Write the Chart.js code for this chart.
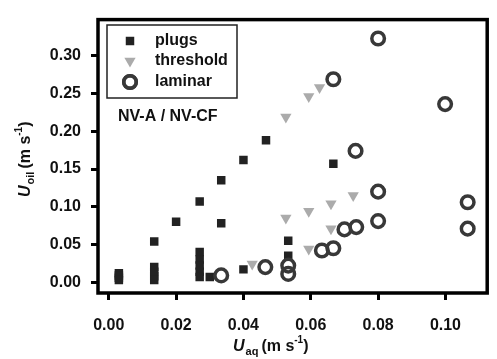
<!DOCTYPE html>
<html>
<head>
<meta charset="utf-8">
<script src="https://cdn.jsdelivr.net/npm/chart.js@4.4.1/dist/chart.umd.min.js"></script>
<style>
  html, body { margin: 0; padding: 0; background: #fff; }
  #wrap { width: 497px; height: 359px; position: relative; }
</style>
</head>
<body>
<div id="wrap"><canvas id="myChart"></canvas></div>
<script>
"use strict";

// data
const plugsX = [0.003, 0.003, 0.003, 0.003, 0.0135, 0.0135, 0.0135, 0.0135, 0.0135, 0.020, 0.027, 0.027, 0.027, 0.027, 0.027, 0.027, 0.030, 0.0334, 0.0334, 0.040, 0.040, 0.0467, 0.0533, 0.0533, 0.0667];
const plugsY = [0.012, 0.009, 0.006, 0.003, 0.054, 0.020, 0.014, 0.008, 0.003, 0.080, 0.107, 0.040, 0.030, 0.022, 0.014, 0.007, 0.007, 0.135, 0.078, 0.162, 0.017, 0.188, 0.055, 0.035, 0.157];

const thresholdX = [0.0426, 0.0526, 0.0594, 0.0626, 0.0526, 0.0594, 0.066, 0.0726, 0.066, 0.0594];
const thresholdY = [0.024, 0.219, 0.246, 0.258, 0.085, 0.094, 0.104, 0.115, 0.071, 0.044];

const laminarX = [0.0334, 0.0465, 0.0533, 0.0533, 0.0633, 0.0667, 0.070, 0.0735, 0.080, 0.080, 0.1066, 0.1066, 0.080, 0.0667, 0.0999, 0.0733];
const laminarY = [0.009, 0.020, 0.022, 0.011, 0.042, 0.045, 0.070, 0.073, 0.081, 0.120, 0.106, 0.071, 0.323, 0.269, 0.236, 0.174];

const xTicks = [0, 0.02, 0.04, 0.06, 0.08, 0.10];
const yTicks = [0, 0.05, 0.10, 0.15, 0.20, 0.25, 0.30];

const seriesNames = ['plugs', 'threshold', 'laminar'];
const annotation = 'NV-A / NV-CF';

function toPoints(xs, ys) {
    return xs.map((x, i) => ({ x: x, y: ys[i] }));
}

const FAMILY = '"Liberation Sans", Arial, sans-serif';
const FONT = 'bold 16px ' + FAMILY;

const styles = [
    { pointStyle: 'rect', pointRadius: 6, backgroundColor: '#222', borderColor: '#222', borderWidth: 0, rotation: 0 },
    { pointStyle: 'triangle', pointRadius: 6.5, backgroundColor: '#ababab', borderColor: '#ababab', borderWidth: 0, rotation: 180 },
    { pointStyle: 'circle', pointRadius: 6.3, backgroundColor: 'rgba(0,0,0,0)', borderColor: '#383838', borderWidth: 3.5, rotation: 0 }
];

// draws U_sub (m s^-1) starting at x, y
function axisTitle(ctx, sub, x, y) {
    ctx.font = 'italic bold 16px ' + FAMILY;
    ctx.fillText('U', x, y);
    x += ctx.measureText('U').width + 1;
    ctx.font = 'bold 11px ' + FAMILY;
    ctx.fillText(sub, x, y + 5);
    x += ctx.measureText(sub).width + 3;
    ctx.font = 'bold 16px ' + FAMILY;
    ctx.fillText('(m s', x, y);
    x += ctx.measureText('(m s').width;
    ctx.font = 'bold 10px ' + FAMILY;
    ctx.fillText('-1', x, y - 7);
    x += ctx.measureText('-1').width;
    ctx.font = 'bold 16px ' + FAMILY;
    ctx.fillText(')', x, y);
}

// frame, legend, annotation and axis titles
const decorPlugin = {
    id: 'decor',
    afterDraw(chart) {
        const ctx = chart.ctx;
        const a = chart.chartArea;
        ctx.save();
        ctx.strokeStyle = '#000';
        ctx.lineWidth = 3.5;
        ctx.strokeRect(a.left, a.top, a.right - a.left, a.bottom - a.top);

        // legend box
        ctx.lineWidth = 1.5;
        ctx.strokeStyle = '#222';
        ctx.strokeRect(107, 25, 130, 73);
        ctx.font = FONT;
        ctx.fillStyle = '#111';
        ctx.textBaseline = 'middle';
        ctx.textAlign = 'left';
        const rows = [41, 61, 82];
        seriesNames.forEach((name, i) => {
            const s = styles[i];
            ctx.save();
            ctx.fillStyle = s.backgroundColor;
            ctx.strokeStyle = s.borderColor;
            ctx.lineWidth = s.borderWidth;
            Chart.helpers.drawPoint(ctx, {
                pointStyle: s.pointStyle,
                rotation: s.rotation,
                radius: s.pointRadius,
                borderWidth: s.borderWidth
            }, 130, rows[i]);
            if (s.borderWidth) ctx.stroke();
            ctx.restore();
            ctx.font = FONT;
            ctx.fillText(name, 155, rows[i]);
        });

        ctx.font = FONT;
        ctx.fillText(annotation, 118, 117);

        axisTitle(ctx, 'aq', 233, 347);

        ctx.translate(26, 197);
        ctx.rotate(-Math.PI / 2);
        axisTitle(ctx, 'oil', 0, 0);
        ctx.restore();
    }
};

const ctx = document.getElementById('myChart').getContext('2d');
const myChart = new Chart(ctx, {
    type: 'scatter',
    data: {
        datasets: [
            Object.assign({ label: seriesNames[0], data: toPoints(plugsX, plugsY), order: 2 }, styles[0]),
            Object.assign({ label: seriesNames[1], data: toPoints(thresholdX, thresholdY), order: 1 }, styles[1]),
            Object.assign({ label: seriesNames[2], data: toPoints(laminarX, laminarY), order: 0 }, styles[2])
        ]
    },
    options: {
        responsive: true,
        maintainAspectRatio: false,
        animation: false,
        layout: { padding: { left: 0, right: 3, top: 14, bottom: 0 } },
        plugins: {
            legend: { display: false },
            tooltip: { enabled: false }
        },
        scales: {
            x: {
                type: 'linear',
                min: -0.0032,
                max: 0.1124,
                afterBuildTicks: (s) => { s.ticks = xTicks.map(v => ({ value: v })); },
                afterFit: (s) => { s.height = 66; },
                border: { display: false },
                grid: { drawOnChartArea: false, drawTicks: true, tickLength: 7, lineWidth: 3, color: '#000' },
                ticks: {
                    padding: 16,
                    color: '#111',
                    font: { family: FAMILY, size: 16, weight: 'bold' },
                    callback: (v) => v.toFixed(2),
                    maxRotation: 0
                }
            },
            y: {
                type: 'linear',
                min: -0.0143,
                max: 0.348,
                afterBuildTicks: (s) => { s.ticks = yTicks.map(v => ({ value: v })); },
                afterFit: (s) => { s.width = 98; },
                border: { display: false },
                grid: { drawOnChartArea: false, drawTicks: true, tickLength: 7, lineWidth: 3, color: '#000' },
                ticks: {
                    padding: 10,
                    color: '#111',
                    font: { family: FAMILY, size: 16, weight: 'bold' },
                    callback: (v) => v.toFixed(2)
                }
            }
        }
    },
    plugins: [decorPlugin]
});
</script>
</body>
</html>
